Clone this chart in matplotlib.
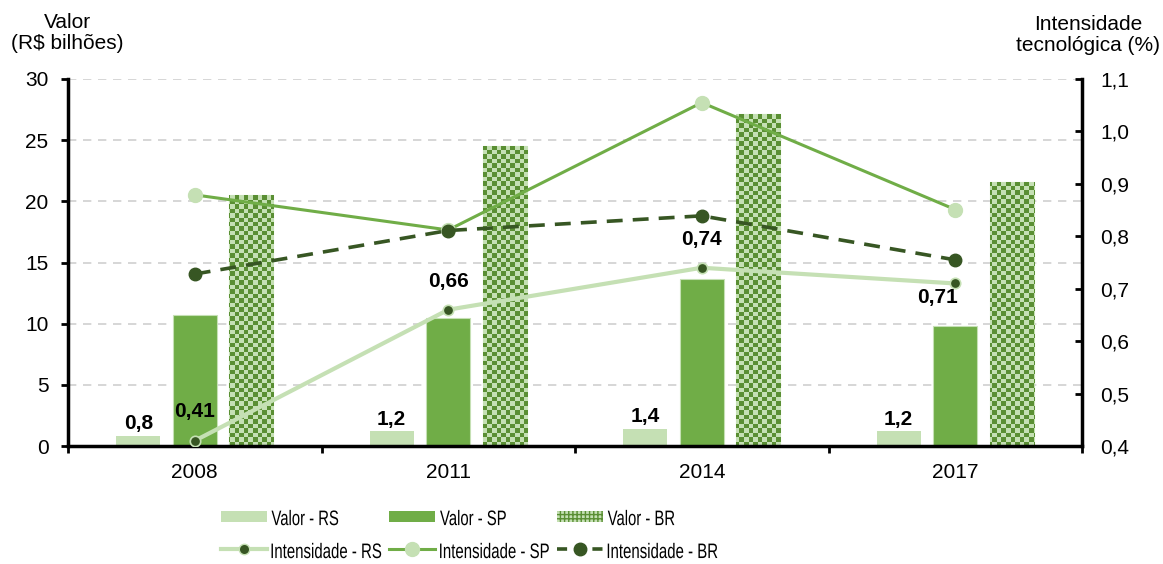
import numpy as np
import matplotlib
matplotlib.use("Agg")
import matplotlib.pyplot as plt
from matplotlib.patches import Patch, PathPatch
from matplotlib.lines import Line2D
from matplotlib.textpath import TextPath
from matplotlib.font_manager import FontProperties
from matplotlib.transforms import Affine2D

plt.rcParams['font.family'] = ['Liberation Sans', 'DejaVu Sans']

years = ['2008', '2011', '2014', '2017']
valor_rs = [0.8, 1.2, 1.4, 1.2]
valor_sp = [10.7, 10.5, 13.65, 9.85]
valor_br = [20.5, 24.55, 27.1, 21.6]
int_rs = [0.41, 0.66, 0.74, 0.71]
int_sp = [0.879, 0.812, 1.055, 0.851]
int_br = [0.728, 0.811, 0.839, 0.755]

rs_lbl = ['0,8', '1,2', '1,4', '1,2']
int_lbl = ['0,41', '0,66', '0,74', '0,71']

light = '#c5e0b4'
mid = '#70ad47'
dark = '#375623'
check_dark = '#5a8f33'

fig = plt.figure(figsize=(11.63, 5.64), dpi=100)
ax = fig.add_axes([68/1163, 1-446/564, 1014/1163, 367/564])
ax2 = ax.twinx()

x = np.arange(len(years))
w = 0.174
off = 0.223

ax.bar(x - off, valor_rs, w, color=light, zorder=2)
ax.bar(x, valor_sp, w, color=mid, edgecolor=light, linewidth=0.8, zorder=2)
br_bars = ax.bar(x + off, valor_br, w, color=light, edgecolor=light, linewidth=0.8, zorder=2)

# checkered fill for BR bars
ncols, nrows = 225, 82
ii, jj = np.mgrid[0:nrows, 0:ncols]
checker = ((ii + jj) % 2).astype(float)
cmap = matplotlib.colors.ListedColormap([light, check_dark])
for b in br_bars:
    im = ax.imshow(checker, cmap=cmap, extent=(-0.5, 3.5, 0, 30), aspect='auto',
                   interpolation='nearest', zorder=2.5)
    im.set_clip_path(b)

ax.set_xlim(-0.5, 3.5)
ax.set_ylim(0, 30)
ax.set_yticks(np.arange(0, 31, 5))
ax.yaxis.grid(True, linestyle=(0, (5, 4)), color='#d0d0d0', linewidth=1.2, zorder=0)
ax.set_axisbelow(True)

ax.set_xticks(np.arange(-0.5, 4, 1))
ax.set_xticklabels([])
ax.set_xticks(x, minor=True)
ax.set_xticklabels(years, minor=True)
ax.tick_params(axis='x', which='minor', length=0, pad=12, labelsize=15)
ax.tick_params(axis='x', which='major', length=5, width=2, direction='out')
ax.tick_params(axis='y', length=5, width=2, direction='out', labelsize=15, pad=9)

for s in ['top']:
    ax.spines[s].set_visible(False)
    ax2.spines[s].set_visible(False)
for s in ['left', 'bottom']:
    ax.spines[s].set_linewidth(2.5)
ax2.spines['right'].set_linewidth(2.5)
ax2.spines['left'].set_visible(False)
ax2.spines['bottom'].set_visible(False)

ax2.set_ylim(0.4, 1.1)
ax2.set_yticks(np.arange(0.4, 1.101, 0.1))
ax2.set_yticklabels([f'{v:.1f}'.replace('.', ',') for v in np.arange(0.4, 1.101, 0.1)])
ax2.tick_params(axis='y', length=5, width=2, direction='in', labelsize=15, pad=13)

for i in range(len(years)):
    ax.annotate(rs_lbl[i], (x[i] - off, valor_rs[i]), xytext=(0, 2), textcoords='offset points',
                ha='center', va='bottom', fontsize=15, fontweight='bold', zorder=6)

ax2.plot(x, int_sp, color=mid, lw=2.2, marker='o', ms=10, mfc=light, mec=light, zorder=4)
ax2.plot(x, int_br, color=dark, lw=2.6, ls=(0, (4.4, 2.8)), marker='o', ms=9, mfc=dark, mec=dark, zorder=4)
ax2.plot(x, int_rs, color=light, lw=3, marker='o', ms=7.5, mfc=dark, mec=light, mew=1.2, zorder=5)

offsets = [(0, 21), (0, 20), (0, 20), (-13, -10)]
for i in range(len(years)):
    ax2.annotate(int_lbl[i], (x[i], int_rs[i]), xytext=offsets[i], textcoords='offset points',
                 ha='center', va='center', fontsize=15, fontweight='bold', zorder=6)

fig.text(67/1163, 1-33/564, 'Valor\n(R$ bilhões)', ha='center', va='center', fontsize=15, linespacing=1.15)
fig.text(1088/1163, 1-35/564, 'Intensidade\ntecnológica (%)', ha='center', va='center', fontsize=15, linespacing=1.15)

h_rs = Patch(facecolor=light)
h_sp = Patch(facecolor=mid)
h_br = Patch(facecolor=light, edgecolor=check_dark, hatch='++++', linewidth=0)
l_rs = Line2D([], [], color=light, lw=3, marker='o', ms=7.5, mfc=dark, mec=light)
l_sp = Line2D([], [], color=mid, lw=2.2, marker='o', ms=10, mfc=light, mec=light)
l_br = Line2D([], [], color=dark, lw=2.6, ls=(0, (2.8, 7)), marker='o', ms=9, mfc=dark, mec=dark)
leg = fig.legend([h_rs, l_rs, h_sp, l_sp, h_br, l_br],
                 ['Valor - RS', 'Intensidade - RS', 'Valor - SP', 'Intensidade - SP', 'Valor - BR', 'Intensidade - BR'],
                 ncol=3, loc='center', bbox_to_anchor=(469/1163, 1-534/564), frameon=False,
                 fontsize=10.5, handlelength=3.15, handleheight=0.8, handletextpad=0.34,
                 columnspacing=0.55, labelspacing=1.3)

# legend text in the reference is a tall condensed face: redraw each label as a
# horizontally squeezed text path at full height
fig.canvas.draw()
renderer = fig.canvas.get_renderer()
fp = FontProperties(family='Liberation Sans')
big = 21
for t in leg.get_texts():
    bb = t.get_window_extent(renderer)
    tp = TextPath((0, 0), t.get_text(), size=big, prop=fp)
    ext = tp.get_extents()
    sx = bb.width / ext.width
    cy = (bb.y0 + bb.y1) / 2
    tr = Affine2D().scale(sx, 1).translate(bb.x0 - ext.x0 * sx, cy - 0.36 * big)
    fig.add_artist(PathPatch(tp, transform=tr, facecolor='black', edgecolor='none'))
    t.set_visible(False)

fig.savefig('out.png', dpi=100)
